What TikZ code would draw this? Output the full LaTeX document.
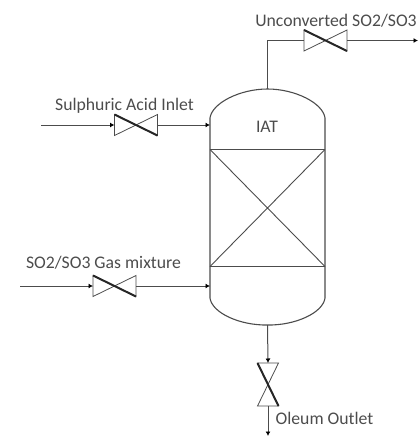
\documentclass[tikz,border=0pt]{standalone}
\usepackage{fontspec}
\setmainfont{Carlito}
\usetikzlibrary{arrows.meta,calc}
\definecolor{linegray}{gray}{0.30}
\definecolor{txtgray}{gray}{0.30}
\tikzset{
  pipe/.style={draw=linegray,line width=1pt},
  flow/.style={pipe,-{Latex[length=4.5pt,width=5pt,color=black]}},
  shell/.style={draw=linegray,line width=1.1pt},
  label/.style={text=txtgray,font=\fontsize{17.7}{19}\selectfont,inner sep=0pt},
  valvebox/.style={inner sep=0pt,outer sep=0pt},
  valvethin/.style={draw=linegray,line width=0.8pt,line join=miter},
  valvethick/.style={draw=black!85,line width=2pt},
}
\newcommand{\hvalve}[2]{% name, center
  \node[valvebox,minimum width=43pt,minimum height=21pt] (#1) at (#2) {};
  \draw[valvethin] (#1.north west) -- (#1.south west) -- (#1.center) -- cycle;
  \draw[valvethin] (#1.north east) -- (#1.south east) -- (#1.center) -- cycle;
  \draw[valvethick] (#1.north west) -- (#1.south east);
}
\newcommand{\vvalve}[2]{% name, center
  \node[valvebox,minimum width=21pt,minimum height=43pt] (#1) at (#2) {};
  \draw[valvethin] (#1.north west) -- (#1.north east) -- (#1.center) -- cycle;
  \draw[valvethin] (#1.south west) -- (#1.south east) -- (#1.center) -- cycle;
  \draw[valvethick] (#1.north west) -- (#1.south east);
}
\begin{document}
\begin{tikzpicture}[x=1pt,y=-1pt]
\useasboundingbox (0,0) rectangle (419,437);
% vessel
\node[inner sep=0pt,outer sep=0pt,minimum width=115pt,minimum height=236pt] (vessel) at (267.5,207) {};
\draw[shell] (vessel.west |- 0,118) .. controls (212,103) and (240,89) .. (vessel.north)
  .. controls (295,89) and (323,103) .. (vessel.east |- 0,118)
  -- (vessel.east |- 0,298) .. controls (323,313) and (295,325.5) .. (vessel.south)
  .. controls (240,325.5) and (212,313) .. (vessel.west |- 0,298) -- cycle;
\coordinate (pa) at (vessel.west |- 0,149.5);
\coordinate (pb) at (vessel.east |- 0,149.5);
\coordinate (pc) at (vessel.west |- 0,266.5);
\coordinate (pd) at (vessel.east |- 0,266.5);
\draw[shell] (pa) -- (pb) (pc) -- (pd);
\draw[shell,line width=0.9pt] (pa) -- (pd) (pb) -- (pc);
\node[label] (iat) at (267,127) {IAT};
% valves
\hvalve{vtop}{325.5,40.5}
\hvalve{vacid}{136,125}
\hvalve{vgas}{114.5,286}
\vvalve{vout}{268,384.5}
% free ends
\coordinate (acidin) at (41,125);
\coordinate (gasin) at (20,286);
\coordinate (topout) at (418,40.5);
\coordinate (botout) at (268,436);
% connectors
\draw[pipe] (vessel.north) |- (vtop.center -| vtop.west);
\draw[flow] (vtop.east) -- (topout);
\draw[flow] (acidin) -- (vacid.west);
\draw[flow] (vacid.east) -- (vacid.east -| vessel.west);
\draw[flow] (gasin) -- (vgas.west);
\draw[flow] (vgas.east) -- (vgas.east -| vessel.west);
\draw[flow] (vessel.south) -- (vout.north);
\draw[flow] (vout.south) -- (botout);
% labels
\node[label] (ltop) at (336,21) {Unconverted SO2/SO3};
\node[label] (lacid) at (124.5,105.5) {Sulphuric Acid Inlet};
\node[label] (lgas) at (103.5,262.5) {SO2/SO3 Gas mixture};
\node[label] (lout) at (324.5,418) {Oleum Outlet};
\end{tikzpicture}
\end{document}
